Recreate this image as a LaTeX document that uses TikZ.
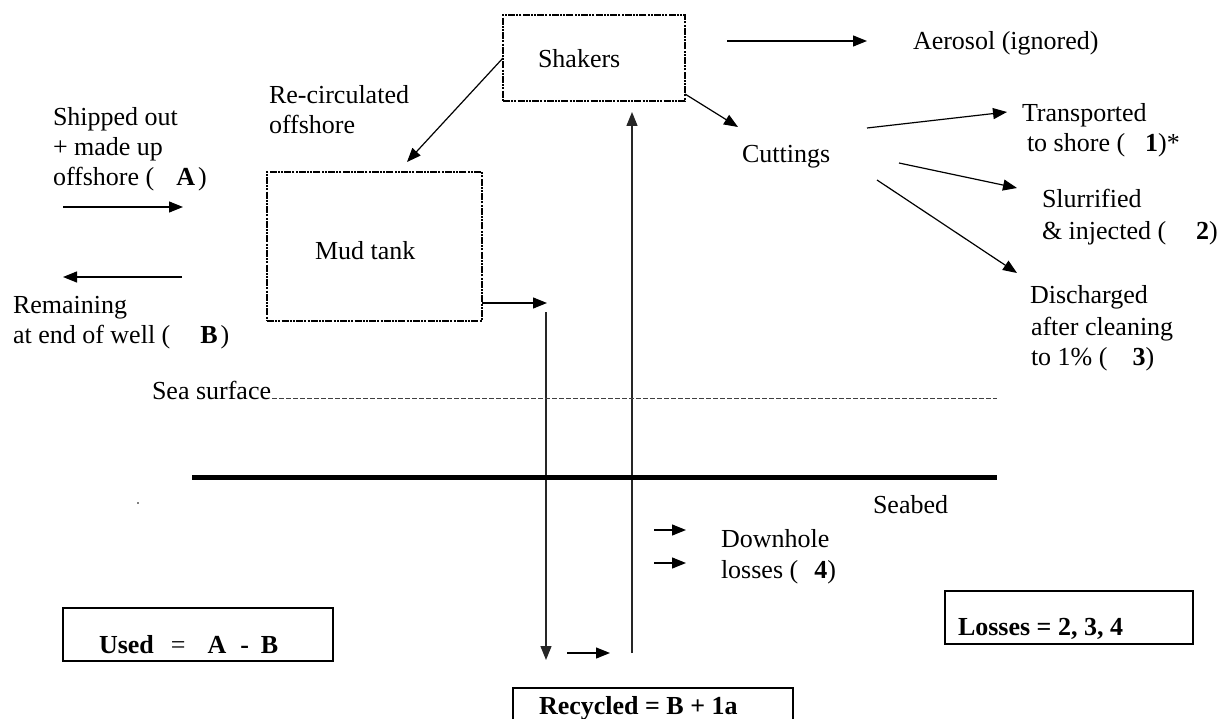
\documentclass[tikz,border=0pt]{standalone}
\usepackage{fontspec}
\setmainfont{Liberation Serif}
\usetikzlibrary{arrows.meta}
\begin{document}
\begin{tikzpicture}[x=1pt,y=-1pt,
  every node/.style={font=\fontsize{26}{30}\selectfont, inner sep=0pt, outer sep=0pt},
  txt/.style={anchor=base west},
  arr/.style={line width=1.2pt, -{Triangle[length=14pt,width=11pt]}},
  pipe/.style={line width=1.3pt, draw=black!85},
  tank/.style={draw, line width=2.4pt, dash pattern=on 7pt off 1.2pt on 2pt off 1.2pt on 2pt off 1.2pt},
  sumbox/.style={draw, line width=1.2pt},
  sealine/.style={draw=black!75, line width=1pt, dash pattern=on 4.5pt off 2.5pt},
  seabedline/.style={line width=5pt}
]
\clip (0,0) rectangle (1223,719);
\fill[white] (0,0) rectangle (1223,719);

% boxes
\node[tank, minimum width=182pt, minimum height=86pt] (shakers) at (594,58) {};
\node[tank, minimum width=215pt, minimum height=149pt] (mud) at (374.5,246.5) {};
\node[sumbox, minimum width=270pt, minimum height=53pt] (usedbox) at (198,634.5) {};
\node[sumbox, minimum width=248pt, minimum height=53pt] (lossbox) at (1069,617.5) {};
\node[sumbox, minimum width=280pt, minimum height=60pt] (recbox) at (653,718) {};

% labels
\node[txt] (shakerslbl) at (538,68) {Shakers};
\node[txt] (mudlbl) at (315,260) {Mud tank};
\node[txt] (cuttings) at (742,163) {Cuttings};
\node[txt] (aerosol) at (913,50) {Aerosol (ignored)};
\node[txt] (recirc1) at (269,104) {Re-circulated};
\node[txt] (recirc2) at (269,134) {offshore};
\node[txt] (ship1) at (53,126) {Shipped out};
\node[txt] (ship2) at (53,156) {+ made up};
\node[txt] (ship3) at (53,186) {offshore (\hspace{22pt}\textbf{A}\hspace{3pt})};
\node[txt] (rem1) at (13,313) {Remaining};
\node[txt] (rem2) at (13,343) {at end of well (\hspace{30pt}\textbf{B}\hspace{3pt})};
\node[txt] (trans1) at (1022,122) {Transported};
\node[txt] (trans2) at (1027,152) {to shore (\hspace{20pt}\textbf{1})*};
\node[txt] (slur1) at (1042,208) {Slurrified};
\node[txt] (slur2) at (1042,240) {\& injected (\hspace{30pt}\textbf{2})};
\node[txt] (dis1) at (1030,304) {Discharged};
\node[txt] (dis2) at (1031,335) {after cleaning};
\node[txt] (dis3) at (1031,365) {to 1\% (\hspace{25pt}\textbf{3})};
\node[txt] (seasurf) at (152,399) {Sea surface};
\node[txt] (seabed) at (873,513) {Seabed};
\node[txt] (down1) at (721,547) {Downhole};
\node[txt] (down2) at (721,578) {losses (\hspace{16pt}\textbf{4})};
\node[txt] (usedlbl) at (99,653) {\textbf{Used}\hspace{17pt}=\hspace{22pt}\textbf{A}\hspace{14pt}\textbf{-}\hspace{12pt}\textbf{B}};
\node[txt] (losslbl) at (958,635) {\textbf{Losses = 2, 3, 4}};
\node[txt] (reclbl) at (539,714) {\textbf{Recycled = B + 1a}};

% free ends
\coordinate (mudin) at (407,162);
\coordinate (shkout) at (685,94);
\coordinate (cutin) at (738,127);
\coordinate (aerS) at (727,41);
\coordinate (aerE) at (867,41);
\coordinate (c1S) at (867,128);
\coordinate (c1E) at (1007,112);
\coordinate (c2S) at (899,163);
\coordinate (c2E) at (1017,188);
\coordinate (c3S) at (877,180);
\coordinate (c3E) at (1017,273);
\coordinate (aS) at (63,207);
\coordinate (aE) at (183,207);
\coordinate (bS) at (182,277);
\coordinate (bE) at (63,277);
\coordinate (mudout) at (482,303);
\coordinate (mudoutE) at (547,303);
\coordinate (dnS) at (546,312);
\coordinate (dnE) at (546,660);
\coordinate (btS) at (567,653);
\coordinate (btE) at (610,653);
\coordinate (upS) at (632,653);
\coordinate (upE) at (632,112);
\coordinate (dh1S) at (654,530);
\coordinate (dh1E) at (686,530);
\coordinate (dh2S) at (654,563);
\coordinate (dh2E) at (686,563);
\coordinate (seaS) at (272,398);
\coordinate (seaE) at (997,398);
\coordinate (bedS) at (192,477);
\coordinate (bedE) at (997,477);

% connectors
\draw[arr] (shakers.west) -- (mudin);
\draw[arr] (shkout) -- (cutin);
\draw[arr] (aerS) -- (aerE);
\draw[arr] (c1S) -- (c1E);
\draw[arr] (c2S) -- (c2E);
\draw[arr] (c3S) -- (c3E);
\draw[arr] (aS) -- (aE);
\draw[arr] (bS) -- (bE);
\draw[arr] (mudout) -- (mudoutE);
\draw[arr, pipe] (dnS) -- (dnE);
\draw[arr] (btS) -- (btE);
\draw[arr, pipe] (upS) -- (upE);
\draw[arr] (dh1S) -- (dh1E);
\draw[arr] (dh2S) -- (dh2E);

% sea surface and seabed
\draw[sealine] (seaS) -- (seaE);
\draw[seabedline] (bedS) -- (bedE);

% stray dot
\fill (138,503) circle (0.9pt);
\end{tikzpicture}
\end{document}
